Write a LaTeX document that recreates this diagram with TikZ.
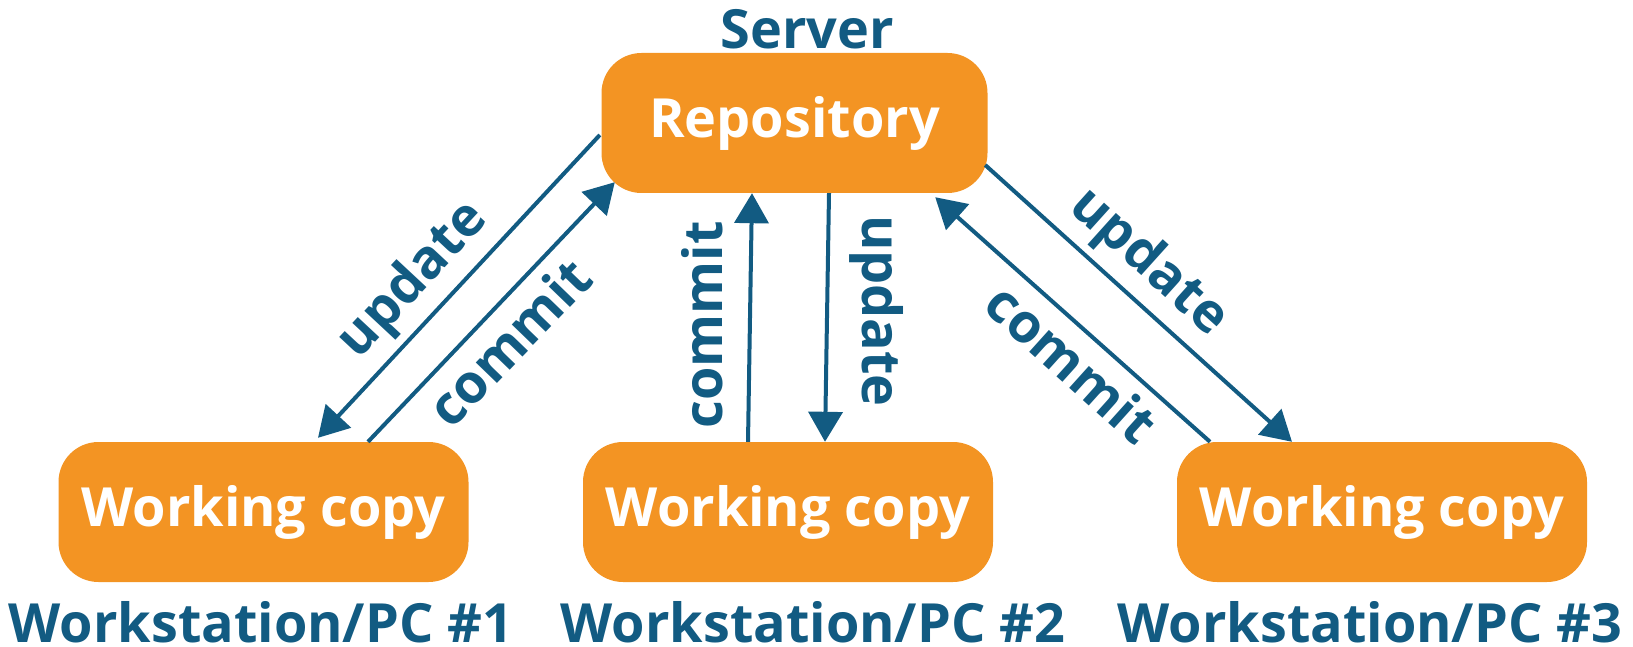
\documentclass[tikz,border=0pt]{standalone}
\usepackage{fontspec}
\setmainfont{Open Sans}
\usetikzlibrary{arrows.meta}
\definecolor{orng}{HTML}{F39423}
\definecolor{blu}{HTML}{125B82}
\begin{document}
\begin{tikzpicture}[x=1pt,y=-1pt,
  box/.style={fill=orng, rounded corners=40pt, minimum width=410pt, minimum height=140pt,
    inner sep=0pt, text=white, font=\fontsize{54}{58}\selectfont\bfseries},
  lbl/.style={text=blu, font=\fontsize{54}{60}\selectfont\bfseries, inner sep=0pt, anchor=base},
  arr/.style={draw=blu, line width=4pt, -{Triangle[length=30pt,width=34pt]}},
  albl/.style={text=blu, font=\fontsize{54}{58}\selectfont\bfseries, inner sep=0pt}]
\path[use as bounding box] (0,0) rectangle (1633,647);
\node[box, minimum width=386pt] (repo) at (794.5,123) {Repository};
\node[box] (wc1) at (263.5,512) {Working copy};
\node[box] (wc2) at (788,512) {Working copy};
\node[box] (wc3) at (1382,512) {Working copy};
\node[lbl] (srv) at (807,49) {Server};
\node[lbl] (ws1) at (261,642) {Workstation/PC \#1};
\node[lbl] (ws2) at (813,642) {Workstation/PC \#2};
\node[lbl] (ws3) at (1370,642) {Workstation/PC \#3};
% left pair
\draw[arr] ([shift={(-1.5,12)}]repo.west) -- ([shift={(54.5,-4)}]wc1.north);
\draw[arr] ([shift={(104.5,0)}]wc1.north) -- ([shift={(13.5,-11)}]repo.south west);
% middle pair
\draw[arr] ([shift={(-40,0)}]wc2.north) -- ([shift={(-42.5,0)}]repo.south);
\draw[arr] ([shift={(34.5,0)}]repo.south) -- ([shift={(37,0)}]wc2.north);
% right pair
\draw[arr] ([shift={(-2.5,42)}]repo.east) -- ([shift={(-90,0)}]wc3.north);
\draw[arr] ([shift={(-172,0)}]wc3.north) -- ([shift={(-52.5,4)}]repo.south east);
% arrow labels
\node[albl, rotate=47] (lu) at (414,281) {update};
\node[albl, rotate=46] (lc) at (509,342) {commit};
\node[albl, rotate=90] (mc) at (702,325) {commit};
\node[albl, rotate=-90] (mu) at (877,311) {update};
\node[albl, rotate=-42] (ru) at (1148,263) {update};
\node[albl, rotate=-42] (rc) at (1072,363) {commit};
\end{tikzpicture}
\end{document}
